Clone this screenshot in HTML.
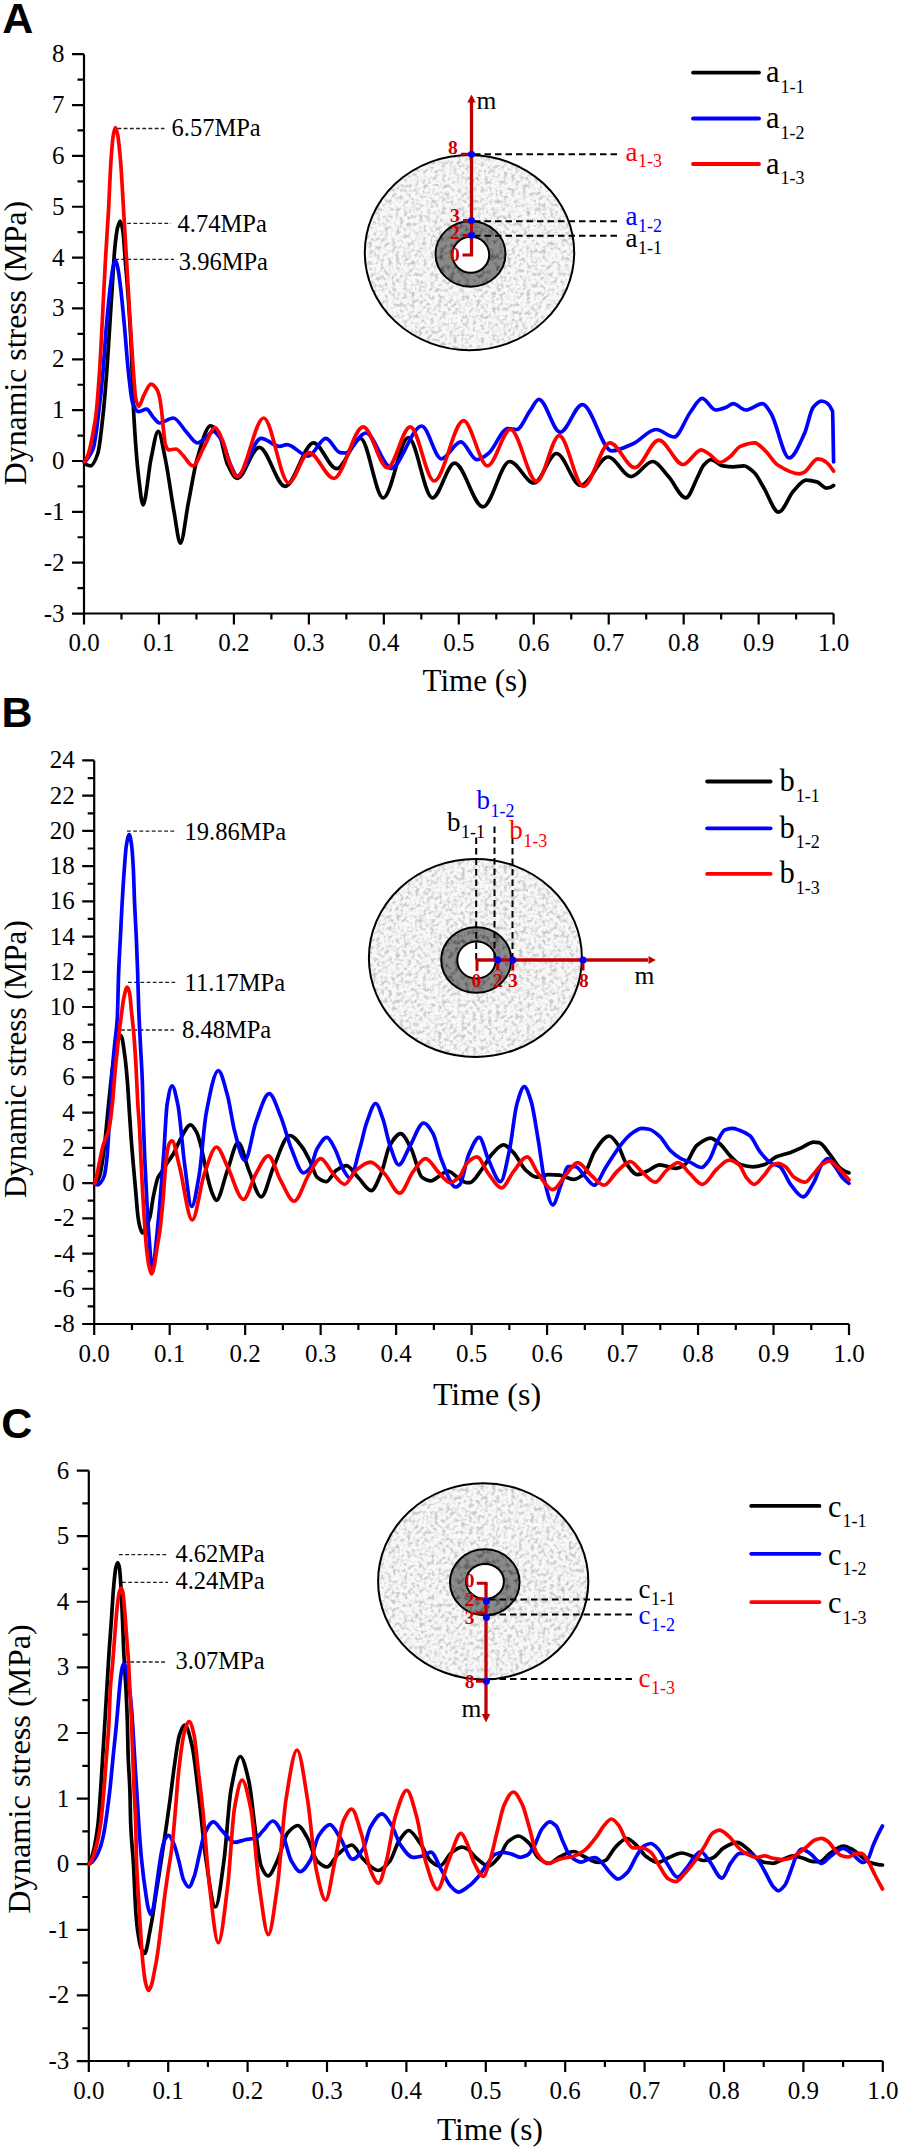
<!DOCTYPE html>
<html><head><meta charset="utf-8"><style>html,body{margin:0;padding:0;background:#fff;width:901px;height:2149px;overflow:hidden}svg{display:block}</style></head>
<body><svg width="901" height="2149" viewBox="0 0 901 2149"><rect width="100%" height="100%" fill="#fff"/><text x="2.2" y="33" font-family="'Liberation Sans', sans-serif" font-weight="bold" font-size="43" fill="#000">A</text><text x="64.5" y="621.55" text-anchor="end" font-family="'Liberation Serif', serif" font-size="25" fill="#000">-3</text><text x="64.5" y="570.70" text-anchor="end" font-family="'Liberation Serif', serif" font-size="25" fill="#000">-2</text><text x="64.5" y="519.85" text-anchor="end" font-family="'Liberation Serif', serif" font-size="25" fill="#000">-1</text><text x="64.5" y="469.00" text-anchor="end" font-family="'Liberation Serif', serif" font-size="25" fill="#000">0</text><text x="64.5" y="418.15" text-anchor="end" font-family="'Liberation Serif', serif" font-size="25" fill="#000">1</text><text x="64.5" y="367.30" text-anchor="end" font-family="'Liberation Serif', serif" font-size="25" fill="#000">2</text><text x="64.5" y="316.45" text-anchor="end" font-family="'Liberation Serif', serif" font-size="25" fill="#000">3</text><text x="64.5" y="265.60" text-anchor="end" font-family="'Liberation Serif', serif" font-size="25" fill="#000">4</text><text x="64.5" y="214.75" text-anchor="end" font-family="'Liberation Serif', serif" font-size="25" fill="#000">5</text><text x="64.5" y="163.90" text-anchor="end" font-family="'Liberation Serif', serif" font-size="25" fill="#000">6</text><text x="64.5" y="113.05" text-anchor="end" font-family="'Liberation Serif', serif" font-size="25" fill="#000">7</text><text x="64.5" y="62.20" text-anchor="end" font-family="'Liberation Serif', serif" font-size="25" fill="#000">8</text><text x="84.00" y="651.0" text-anchor="middle" font-family="'Liberation Serif', serif" font-size="25" fill="#000">0.0</text><text x="158.96" y="651.0" text-anchor="middle" font-family="'Liberation Serif', serif" font-size="25" fill="#000">0.1</text><text x="233.92" y="651.0" text-anchor="middle" font-family="'Liberation Serif', serif" font-size="25" fill="#000">0.2</text><text x="308.88" y="651.0" text-anchor="middle" font-family="'Liberation Serif', serif" font-size="25" fill="#000">0.3</text><text x="383.84" y="651.0" text-anchor="middle" font-family="'Liberation Serif', serif" font-size="25" fill="#000">0.4</text><text x="458.80" y="651.0" text-anchor="middle" font-family="'Liberation Serif', serif" font-size="25" fill="#000">0.5</text><text x="533.76" y="651.0" text-anchor="middle" font-family="'Liberation Serif', serif" font-size="25" fill="#000">0.6</text><text x="608.72" y="651.0" text-anchor="middle" font-family="'Liberation Serif', serif" font-size="25" fill="#000">0.7</text><text x="683.68" y="651.0" text-anchor="middle" font-family="'Liberation Serif', serif" font-size="25" fill="#000">0.8</text><text x="758.64" y="651.0" text-anchor="middle" font-family="'Liberation Serif', serif" font-size="25" fill="#000">0.9</text><text x="833.60" y="651.0" text-anchor="middle" font-family="'Liberation Serif', serif" font-size="25" fill="#000">1.0</text><path d="M84 54.19999999999999V613.5M72 613.5H833.6M72 613.55H84M77.5 588.12H84M72 562.70H84M77.5 537.27H84M72 511.85H84M77.5 486.43H84M72 461.00H84M77.5 435.57H84M72 410.15H84M77.5 384.73H84M72 359.30H84M77.5 333.88H84M72 308.45H84M77.5 283.02H84M72 257.60H84M77.5 232.17H84M72 206.75H84M77.5 181.32H84M72 155.90H84M77.5 130.47H84M72 105.05H84M77.5 79.62H84M72 54.20H84M84.00 613.5V624.5M121.48 613.5V619.5M158.96 613.5V624.5M196.44 613.5V619.5M233.92 613.5V624.5M271.40 613.5V619.5M308.88 613.5V624.5M346.36 613.5V619.5M383.84 613.5V624.5M421.32 613.5V619.5M458.80 613.5V624.5M496.28 613.5V619.5M533.76 613.5V624.5M571.24 613.5V619.5M608.72 613.5V624.5M646.20 613.5V619.5M683.68 613.5V624.5M721.16 613.5V619.5M758.64 613.5V624.5M796.12 613.5V619.5M833.60 613.5V624.5" stroke="#000" stroke-width="2.2" fill="none"/><text x="475" y="691" text-anchor="middle" font-family="'Liberation Serif', serif" font-size="31" fill="#000">Time (s)</text><text transform="translate(26,343) rotate(-90)" x="0" y="0" text-anchor="middle" font-family="'Liberation Serif', serif" font-size="31.8" fill="#000">Dynamic stress (MPa)</text><text x="1.5" y="727" font-family="'Liberation Sans', sans-serif" font-weight="bold" font-size="43" fill="#000">B</text><text x="74.7" y="1331.98" text-anchor="end" font-family="'Liberation Serif', serif" font-size="25" fill="#000">-8</text><text x="74.7" y="1296.76" text-anchor="end" font-family="'Liberation Serif', serif" font-size="25" fill="#000">-6</text><text x="74.7" y="1261.54" text-anchor="end" font-family="'Liberation Serif', serif" font-size="25" fill="#000">-4</text><text x="74.7" y="1226.32" text-anchor="end" font-family="'Liberation Serif', serif" font-size="25" fill="#000">-2</text><text x="74.7" y="1191.10" text-anchor="end" font-family="'Liberation Serif', serif" font-size="25" fill="#000">0</text><text x="74.7" y="1155.88" text-anchor="end" font-family="'Liberation Serif', serif" font-size="25" fill="#000">2</text><text x="74.7" y="1120.66" text-anchor="end" font-family="'Liberation Serif', serif" font-size="25" fill="#000">4</text><text x="74.7" y="1085.44" text-anchor="end" font-family="'Liberation Serif', serif" font-size="25" fill="#000">6</text><text x="74.7" y="1050.22" text-anchor="end" font-family="'Liberation Serif', serif" font-size="25" fill="#000">8</text><text x="74.7" y="1015.00" text-anchor="end" font-family="'Liberation Serif', serif" font-size="25" fill="#000">10</text><text x="74.7" y="979.78" text-anchor="end" font-family="'Liberation Serif', serif" font-size="25" fill="#000">12</text><text x="74.7" y="944.56" text-anchor="end" font-family="'Liberation Serif', serif" font-size="25" fill="#000">14</text><text x="74.7" y="909.34" text-anchor="end" font-family="'Liberation Serif', serif" font-size="25" fill="#000">16</text><text x="74.7" y="874.12" text-anchor="end" font-family="'Liberation Serif', serif" font-size="25" fill="#000">18</text><text x="74.7" y="838.90" text-anchor="end" font-family="'Liberation Serif', serif" font-size="25" fill="#000">20</text><text x="74.7" y="803.68" text-anchor="end" font-family="'Liberation Serif', serif" font-size="25" fill="#000">22</text><text x="74.7" y="768.46" text-anchor="end" font-family="'Liberation Serif', serif" font-size="25" fill="#000">24</text><text x="94.20" y="1361.5" text-anchor="middle" font-family="'Liberation Serif', serif" font-size="25" fill="#000">0.0</text><text x="169.68" y="1361.5" text-anchor="middle" font-family="'Liberation Serif', serif" font-size="25" fill="#000">0.1</text><text x="245.16" y="1361.5" text-anchor="middle" font-family="'Liberation Serif', serif" font-size="25" fill="#000">0.2</text><text x="320.64" y="1361.5" text-anchor="middle" font-family="'Liberation Serif', serif" font-size="25" fill="#000">0.3</text><text x="396.12" y="1361.5" text-anchor="middle" font-family="'Liberation Serif', serif" font-size="25" fill="#000">0.4</text><text x="471.60" y="1361.5" text-anchor="middle" font-family="'Liberation Serif', serif" font-size="25" fill="#000">0.5</text><text x="547.08" y="1361.5" text-anchor="middle" font-family="'Liberation Serif', serif" font-size="25" fill="#000">0.6</text><text x="622.56" y="1361.5" text-anchor="middle" font-family="'Liberation Serif', serif" font-size="25" fill="#000">0.7</text><text x="698.04" y="1361.5" text-anchor="middle" font-family="'Liberation Serif', serif" font-size="25" fill="#000">0.8</text><text x="773.52" y="1361.5" text-anchor="middle" font-family="'Liberation Serif', serif" font-size="25" fill="#000">0.9</text><text x="849.00" y="1361.5" text-anchor="middle" font-family="'Liberation Serif', serif" font-size="25" fill="#000">1.0</text><path d="M94.2 760.4599999999999V1324M82.2 1324H849M82.2 1323.98H94.2M87.7 1306.37H94.2M82.2 1288.76H94.2M87.7 1271.15H94.2M82.2 1253.54H94.2M87.7 1235.93H94.2M82.2 1218.32H94.2M87.7 1200.71H94.2M82.2 1183.10H94.2M87.7 1165.49H94.2M82.2 1147.88H94.2M87.7 1130.27H94.2M82.2 1112.66H94.2M87.7 1095.05H94.2M82.2 1077.44H94.2M87.7 1059.83H94.2M82.2 1042.22H94.2M87.7 1024.61H94.2M82.2 1007.00H94.2M87.7 989.39H94.2M82.2 971.78H94.2M87.7 954.17H94.2M82.2 936.56H94.2M87.7 918.95H94.2M82.2 901.34H94.2M87.7 883.73H94.2M82.2 866.12H94.2M87.7 848.51H94.2M82.2 830.90H94.2M87.7 813.29H94.2M82.2 795.68H94.2M87.7 778.07H94.2M82.2 760.46H94.2M94.20 1324V1335M131.94 1324V1330M169.68 1324V1335M207.42 1324V1330M245.16 1324V1335M282.90 1324V1330M320.64 1324V1335M358.38 1324V1330M396.12 1324V1335M433.86 1324V1330M471.60 1324V1335M509.34 1324V1330M547.08 1324V1335M584.82 1324V1330M622.56 1324V1335M660.30 1324V1330M698.04 1324V1335M735.78 1324V1330M773.52 1324V1335M811.26 1324V1330M849.00 1324V1335" stroke="#000" stroke-width="2.2" fill="none"/><text x="487" y="1405.4" text-anchor="middle" font-family="'Liberation Serif', serif" font-size="32" fill="#000">Time (s)</text><text transform="translate(26.1,1059.3) rotate(-90)" x="0" y="0" text-anchor="middle" font-family="'Liberation Serif', serif" font-size="31.1" fill="#000">Dynamic stress (MPa)</text><text x="1.3" y="1438.2" font-family="'Liberation Sans', sans-serif" font-weight="bold" font-size="43" fill="#000">C</text><text x="69.3" y="2069.03" text-anchor="end" font-family="'Liberation Serif', serif" font-size="25" fill="#000">-3</text><text x="69.3" y="2003.42" text-anchor="end" font-family="'Liberation Serif', serif" font-size="25" fill="#000">-2</text><text x="69.3" y="1937.81" text-anchor="end" font-family="'Liberation Serif', serif" font-size="25" fill="#000">-1</text><text x="69.3" y="1872.20" text-anchor="end" font-family="'Liberation Serif', serif" font-size="25" fill="#000">0</text><text x="69.3" y="1806.59" text-anchor="end" font-family="'Liberation Serif', serif" font-size="25" fill="#000">1</text><text x="69.3" y="1740.98" text-anchor="end" font-family="'Liberation Serif', serif" font-size="25" fill="#000">2</text><text x="69.3" y="1675.37" text-anchor="end" font-family="'Liberation Serif', serif" font-size="25" fill="#000">3</text><text x="69.3" y="1609.76" text-anchor="end" font-family="'Liberation Serif', serif" font-size="25" fill="#000">4</text><text x="69.3" y="1544.15" text-anchor="end" font-family="'Liberation Serif', serif" font-size="25" fill="#000">5</text><text x="69.3" y="1478.54" text-anchor="end" font-family="'Liberation Serif', serif" font-size="25" fill="#000">6</text><text x="88.80" y="2098.5" text-anchor="middle" font-family="'Liberation Serif', serif" font-size="25" fill="#000">0.0</text><text x="168.20" y="2098.5" text-anchor="middle" font-family="'Liberation Serif', serif" font-size="25" fill="#000">0.1</text><text x="247.60" y="2098.5" text-anchor="middle" font-family="'Liberation Serif', serif" font-size="25" fill="#000">0.2</text><text x="327.00" y="2098.5" text-anchor="middle" font-family="'Liberation Serif', serif" font-size="25" fill="#000">0.3</text><text x="406.40" y="2098.5" text-anchor="middle" font-family="'Liberation Serif', serif" font-size="25" fill="#000">0.4</text><text x="485.80" y="2098.5" text-anchor="middle" font-family="'Liberation Serif', serif" font-size="25" fill="#000">0.5</text><text x="565.20" y="2098.5" text-anchor="middle" font-family="'Liberation Serif', serif" font-size="25" fill="#000">0.6</text><text x="644.60" y="2098.5" text-anchor="middle" font-family="'Liberation Serif', serif" font-size="25" fill="#000">0.7</text><text x="724.00" y="2098.5" text-anchor="middle" font-family="'Liberation Serif', serif" font-size="25" fill="#000">0.8</text><text x="803.40" y="2098.5" text-anchor="middle" font-family="'Liberation Serif', serif" font-size="25" fill="#000">0.9</text><text x="882.80" y="2098.5" text-anchor="middle" font-family="'Liberation Serif', serif" font-size="25" fill="#000">1.0</text><path d="M88.8 1470.54V2061M76.8 2061H882.8M76.8 2061.03H88.8M82.3 2028.23H88.8M76.8 1995.42H88.8M82.3 1962.62H88.8M76.8 1929.81H88.8M82.3 1897.01H88.8M76.8 1864.20H88.8M82.3 1831.39H88.8M76.8 1798.59H88.8M82.3 1765.79H88.8M76.8 1732.98H88.8M82.3 1700.17H88.8M76.8 1667.37H88.8M82.3 1634.57H88.8M76.8 1601.76H88.8M82.3 1568.95H88.8M76.8 1536.15H88.8M82.3 1503.35H88.8M76.8 1470.54H88.8M88.80 2061V2072M128.50 2061V2067M168.20 2061V2072M207.90 2061V2067M247.60 2061V2072M287.30 2061V2067M327.00 2061V2072M366.70 2061V2067M406.40 2061V2072M446.10 2061V2067M485.80 2061V2072M525.50 2061V2067M565.20 2061V2072M604.90 2061V2067M644.60 2061V2072M684.30 2061V2067M724.00 2061V2072M763.70 2061V2067M803.40 2061V2072M843.10 2061V2067M882.80 2061V2072" stroke="#000" stroke-width="2.2" fill="none"/><text x="490" y="2139.7" text-anchor="middle" font-family="'Liberation Serif', serif" font-size="31.3" fill="#000">Time (s)</text><text transform="translate(30,1769) rotate(-90)" x="0" y="0" text-anchor="middle" font-family="'Liberation Serif', serif" font-size="32.4" fill="#000">Dynamic stress (MPa)</text><defs><filter id="spk" x="0" y="0" width="1" height="1" color-interpolation-filters="sRGB"><feTurbulence type="fractalNoise" baseFrequency="0.26" numOctaves="3" seed="4"/><feColorMatrix type="matrix" values="0 0 0 0 0.78  0 0 0 0 0.78  0 0 0 0 0.78  -3.2 0 0 0 1.75"/><feGaussianBlur stdDeviation="0.7"/><feComposite in2="SourceGraphic" operator="in"/></filter><filter id="spk2" x="0" y="0" width="1" height="1" color-interpolation-filters="sRGB"><feTurbulence type="fractalNoise" baseFrequency="0.2" numOctaves="3" seed="9"/><feColorMatrix type="matrix" values="0 0 0 0 0.3  0 0 0 0 0.3  0 0 0 0 0.3  -2.5 0 0 0 1.35"/><feGaussianBlur stdDeviation="0.5"/><feComposite in2="SourceGraphic" operator="in"/></filter></defs><path d="M693 72.6H759" stroke="#000" stroke-width="3.8" fill="none" stroke-linecap="round"/><text x="766" y="82.1" font-family="'Liberation Serif', serif" font-size="30.5" fill="#000">a<tspan dx="1" dy="10.5" font-size="18">1-1</tspan></text><path d="M693 118.5H759" stroke="#0000ff" stroke-width="3.8" fill="none" stroke-linecap="round"/><text x="766" y="128.0" font-family="'Liberation Serif', serif" font-size="30.5" fill="#000">a<tspan dx="1" dy="10.5" font-size="18">1-2</tspan></text><path d="M693 164H759" stroke="#ff0000" stroke-width="3.8" fill="none" stroke-linecap="round"/><text x="766" y="173.5" font-family="'Liberation Serif', serif" font-size="30.5" fill="#000">a<tspan dx="1" dy="10.5" font-size="18">1-3</tspan></text><ellipse cx="469.5" cy="252.6" rx="104.7" ry="97.6" fill="#f8f8f8" stroke="none"/><ellipse cx="469.5" cy="252.6" rx="104.7" ry="97.6" fill="#000" filter="url(#spk)"/><ellipse cx="469.5" cy="252.6" rx="104.7" ry="97.6" fill="none" stroke="#000" stroke-width="2"/><ellipse cx="470.5" cy="254" rx="35" ry="32.7" fill="#8a8a8a" stroke="none"/><ellipse cx="470.5" cy="254" rx="35" ry="32.7" fill="#000" filter="url(#spk2)"/><ellipse cx="470.5" cy="254" rx="35" ry="32.7" fill="none" stroke="#000" stroke-width="2"/><ellipse cx="470.8" cy="254.7" rx="18.4" ry="18" fill="#fff" stroke="#000" stroke-width="2"/><path d="M471.5 255V101" stroke="#c00000" stroke-width="3.3" fill="none"/><path d="M467.3 102.5L471.5 94.5L475.7 102.5Z" fill="#c00000"/><path d="M462.5 255H473M461 154.2H471M463 220.6H471M463 235.2H471" stroke="#c00000" stroke-width="3" fill="none"/><path d="M474 154.3H617" stroke="#000" stroke-width="2" stroke-dasharray="6.5 4" fill="none"/><path d="M474 221.2H617" stroke="#000" stroke-width="2" stroke-dasharray="6.5 4" fill="none"/><path d="M474 235.8H619" stroke="#000" stroke-width="2" stroke-dasharray="6.5 4" fill="none"/><circle cx="471.5" cy="154.3" r="3.5" fill="#0000ff"/><circle cx="471.5" cy="220.6" r="3.5" fill="#0000ff"/><circle cx="471.5" cy="235.2" r="3.5" fill="#0000ff"/><text x="448" y="154" font-family="'Liberation Serif', serif" font-weight="bold" font-size="19.5" fill="#d00000">8</text><text x="450" y="221.7" font-family="'Liberation Serif', serif" font-weight="bold" font-size="19.5" fill="#d00000">3</text><text x="450" y="239.4" font-family="'Liberation Serif', serif" font-weight="bold" font-size="19.5" fill="#d00000">2</text><text x="450" y="260.5" font-family="'Liberation Serif', serif" font-weight="bold" font-size="19.5" fill="#d00000">0</text><text x="476.5" y="108.9" font-family="'Liberation Serif', serif" font-size="25.5" fill="#000">m</text><text x="625.5" y="160.6" font-family="'Liberation Serif', serif" font-size="27" fill="#ff0000">a<tspan dx="0.5" dy="6.5" font-size="18">1-3</tspan></text><text x="625.5" y="225.3" font-family="'Liberation Serif', serif" font-size="27" fill="#0000ff">a<tspan dx="0.5" dy="6.5" font-size="18">1-2</tspan></text><text x="625.5" y="247.3" font-family="'Liberation Serif', serif" font-size="27" fill="#000">a<tspan dx="0.5" dy="6.5" font-size="18">1-1</tspan></text><path d="M117.5 128.5H164.5" stroke="#222" stroke-width="1.3" stroke-dasharray="3.8 2.4" fill="none"/><text x="171.5" y="135.6" font-family="'Liberation Serif', serif" font-size="24.5" fill="#000">6.57MPa</text><path d="M121 223.4H171" stroke="#222" stroke-width="1.3" stroke-dasharray="3.8 2.4" fill="none"/><text x="177.6" y="232.4" font-family="'Liberation Serif', serif" font-size="24.5" fill="#000">4.74MPa</text><path d="M115 259.4H174" stroke="#222" stroke-width="1.3" stroke-dasharray="3.8 2.4" fill="none"/><text x="178.8" y="270" font-family="'Liberation Serif', serif" font-size="24.5" fill="#000">3.96MPa</text><path d="M127 831.2H175.5" stroke="#222" stroke-width="1.3" stroke-dasharray="3.8 2.4" fill="none"/><text x="184.6" y="839.6" font-family="'Liberation Serif', serif" font-size="24.5" fill="#000">19.86MPa</text><path d="M128 982.4H176" stroke="#222" stroke-width="1.3" stroke-dasharray="3.8 2.4" fill="none"/><text x="184.6" y="991" font-family="'Liberation Serif', serif" font-size="24.5" fill="#000">11.17MPa</text><path d="M121 1030H174" stroke="#222" stroke-width="1.3" stroke-dasharray="3.8 2.4" fill="none"/><text x="182" y="1038.4" font-family="'Liberation Serif', serif" font-size="24.5" fill="#000">8.48MPa</text><path d="M707.1 781.5H770.6" stroke="#000" stroke-width="3.8" fill="none" stroke-linecap="round"/><text x="779.5" y="791.0" font-family="'Liberation Serif', serif" font-size="30.5" fill="#000">b<tspan dx="1" dy="10.5" font-size="18">1-1</tspan></text><path d="M707.1 828.3H770.6" stroke="#0000ff" stroke-width="3.8" fill="none" stroke-linecap="round"/><text x="779.5" y="837.8" font-family="'Liberation Serif', serif" font-size="30.5" fill="#000">b<tspan dx="1" dy="10.5" font-size="18">1-2</tspan></text><path d="M707.1 873.9H770.6" stroke="#ff0000" stroke-width="3.8" fill="none" stroke-linecap="round"/><text x="779.5" y="883.4" font-family="'Liberation Serif', serif" font-size="30.5" fill="#000">b<tspan dx="1" dy="10.5" font-size="18">1-3</tspan></text><ellipse cx="475.4" cy="957.9" rx="106.5" ry="99" fill="#f8f8f8" stroke="none"/><ellipse cx="475.4" cy="957.9" rx="106.5" ry="99" fill="#000" filter="url(#spk)"/><ellipse cx="475.4" cy="957.9" rx="106.5" ry="99" fill="none" stroke="#000" stroke-width="2"/><ellipse cx="476.2" cy="960" rx="35" ry="32.8" fill="#8a8a8a" stroke="none"/><ellipse cx="476.2" cy="960" rx="35" ry="32.8" fill="#000" filter="url(#spk2)"/><ellipse cx="476.2" cy="960" rx="35" ry="32.8" fill="none" stroke="#000" stroke-width="2"/><ellipse cx="476.5" cy="960" rx="19.2" ry="18.6" fill="#fff" stroke="#000" stroke-width="2"/><path d="M476.2 837.5V960" stroke="#000" stroke-width="2" stroke-dasharray="6.5 4" fill="none"/><path d="M494.5 826.6V960" stroke="#000" stroke-width="2" stroke-dasharray="6.5 4" fill="none"/><path d="M512.5 837.5V960" stroke="#000" stroke-width="2" stroke-dasharray="6.5 4" fill="none"/><path d="M476.4 960H648" stroke="#c00000" stroke-width="3.3" fill="none"/><path d="M648.5 956L655.8 960L648.5 964Z" fill="#c00000"/><path d="M477 958.5V971M497.7 960V970.6M512.8 960V970.6M583 960V970.6" stroke="#c00000" stroke-width="3" fill="none"/><circle cx="497.7" cy="960" r="3.5" fill="#0000ff"/><circle cx="512.8" cy="960" r="3.5" fill="#0000ff"/><circle cx="583" cy="960" r="3.5" fill="#0000ff"/><text x="471.6" y="987.1" font-family="'Liberation Serif', serif" font-weight="bold" font-size="19.5" fill="#d00000">0</text><text x="492.9" y="987.1" font-family="'Liberation Serif', serif" font-weight="bold" font-size="19.5" fill="#d00000">2</text><text x="508" y="987.1" font-family="'Liberation Serif', serif" font-weight="bold" font-size="19.5" fill="#d00000">3</text><text x="579" y="987.1" font-family="'Liberation Serif', serif" font-weight="bold" font-size="19.5" fill="#d00000">8</text><text x="634.5" y="984" font-family="'Liberation Serif', serif" font-size="25.5" fill="#000">m</text><text x="476.5" y="808.7" font-family="'Liberation Serif', serif" font-size="27" fill="#0000ff">b<tspan dx="0.5" dy="7.8" font-size="18">1-2</tspan></text><text x="447" y="830.5" font-family="'Liberation Serif', serif" font-size="27" fill="#000">b<tspan dx="0.5" dy="7.8" font-size="18">1-1</tspan></text><text x="509.2" y="839" font-family="'Liberation Serif', serif" font-size="27" fill="#ff0000">b<tspan dx="0.5" dy="7.8" font-size="18">1-3</tspan></text><path d="M119 1554.6H167" stroke="#222" stroke-width="1.3" stroke-dasharray="3.8 2.4" fill="none"/><text x="175.4" y="1562" font-family="'Liberation Serif', serif" font-size="24.5" fill="#000">4.62MPa</text><path d="M122 1582.4H168" stroke="#222" stroke-width="1.3" stroke-dasharray="3.8 2.4" fill="none"/><text x="175.4" y="1589" font-family="'Liberation Serif', serif" font-size="24.5" fill="#000">4.24MPa</text><path d="M124 1662H167" stroke="#222" stroke-width="1.3" stroke-dasharray="3.8 2.4" fill="none"/><text x="175.4" y="1669" font-family="'Liberation Serif', serif" font-size="24.5" fill="#000">3.07MPa</text><path d="M751.2 1505.9H819.5" stroke="#000" stroke-width="3.8" fill="none" stroke-linecap="round"/><text x="828" y="1516.9" font-family="'Liberation Serif', serif" font-size="30.5" fill="#000">c<tspan dx="1" dy="10.5" font-size="18">1-1</tspan></text><path d="M751.2 1553.8H819.5" stroke="#0000ff" stroke-width="3.8" fill="none" stroke-linecap="round"/><text x="828" y="1564.8" font-family="'Liberation Serif', serif" font-size="30.5" fill="#000">c<tspan dx="1" dy="10.5" font-size="18">1-2</tspan></text><path d="M751.2 1602.1H819.5" stroke="#ff0000" stroke-width="3.8" fill="none" stroke-linecap="round"/><text x="828" y="1613.1" font-family="'Liberation Serif', serif" font-size="30.5" fill="#000">c<tspan dx="1" dy="10.5" font-size="18">1-3</tspan></text><ellipse cx="483.2" cy="1581.3" rx="105.1" ry="98.1" fill="#f8f8f8" stroke="none"/><ellipse cx="483.2" cy="1581.3" rx="105.1" ry="98.1" fill="#000" filter="url(#spk)"/><ellipse cx="483.2" cy="1581.3" rx="105.1" ry="98.1" fill="none" stroke="#000" stroke-width="2"/><ellipse cx="484.8" cy="1582.3" rx="34.8" ry="33" fill="#8a8a8a" stroke="none"/><ellipse cx="484.8" cy="1582.3" rx="34.8" ry="33" fill="#000" filter="url(#spk2)"/><ellipse cx="484.8" cy="1582.3" rx="34.8" ry="33" fill="none" stroke="#000" stroke-width="2"/><ellipse cx="485" cy="1581.4" rx="18.9" ry="17.5" fill="#fff" stroke="#000" stroke-width="2"/><path d="M486 1583.3V1715" stroke="#c00000" stroke-width="3.3" fill="none"/><path d="M481.8 1714L486 1722.5L490.2 1714Z" fill="#c00000"/><path d="M476.7 1583.3H487.5M475.5 1598.9H486M475.5 1613.1H486M476 1681.3H486" stroke="#c00000" stroke-width="3" fill="none"/><path d="M489 1599.4H632" stroke="#000" stroke-width="2" stroke-dasharray="6.5 4" fill="none"/><path d="M489 1614.4H632" stroke="#000" stroke-width="2" stroke-dasharray="6.5 4" fill="none"/><path d="M489 1679H632" stroke="#000" stroke-width="2" stroke-dasharray="6.5 4" fill="none"/><circle cx="486.4" cy="1601.3" r="3.5" fill="#0000ff"/><circle cx="486.4" cy="1617.5" r="3.5" fill="#0000ff"/><circle cx="486.4" cy="1681.3" r="3.5" fill="#0000ff"/><text x="464.8" y="1587.2" font-family="'Liberation Serif', serif" font-weight="bold" font-size="19.5" fill="#d00000">0</text><text x="464.8" y="1606.1" font-family="'Liberation Serif', serif" font-weight="bold" font-size="19.5" fill="#d00000">2</text><text x="464.8" y="1624.4" font-family="'Liberation Serif', serif" font-weight="bold" font-size="19.5" fill="#d00000">3</text><text x="464.8" y="1687.5" font-family="'Liberation Serif', serif" font-weight="bold" font-size="19.5" fill="#d00000">8</text><text x="461.5" y="1717" font-family="'Liberation Serif', serif" font-size="25.5" fill="#000">m</text><text x="638.5" y="1598.3" font-family="'Liberation Serif', serif" font-size="27" fill="#000">c<tspan dx="0.5" dy="6.5" font-size="18">1-1</tspan></text><text x="638.5" y="1624" font-family="'Liberation Serif', serif" font-size="27" fill="#0000ff">c<tspan dx="0.5" dy="6.5" font-size="18">1-2</tspan></text><text x="638.5" y="1687" font-family="'Liberation Serif', serif" font-size="27" fill="#ff0000">c<tspan dx="0.5" dy="6.5" font-size="18">1-3</tspan></text><path d="M84.4 462.4C86.5 465.8 88.6 465.9 90.7 465.9C93.1 465.9 95.4 460.4 97.8 453.5C99.6 448.4 101.3 430.6 103.1 414.4C104.3 403.7 105.4 389.2 106.6 373.8C107.4 362.8 108.3 348.9 109.1 336.1C110.2 319.7 111.2 302.3 112.3 285.9C113.1 273.1 114.0 256.6 114.8 248.2C115.7 239.2 116.6 231.5 117.5 228.0C118.4 224.5 119.3 221.0 120.2 221.0C121.1 221.0 122.1 226.3 123.0 232.0C123.8 236.7 124.5 251.2 125.3 260.8C126.3 273.3 127.3 284.1 128.3 298.4C129.3 312.7 130.3 327.2 131.3 348.7C132.0 363.0 132.6 392.7 133.3 405.5C135.1 439.5 136.8 461.6 138.6 476.6C140.1 489.4 141.6 505.0 143.1 505.0C145.7 505.0 148.4 470.9 151.0 458.8C153.4 447.7 155.8 431.3 158.2 431.3C160.6 431.3 162.9 447.7 165.3 458.8C168.2 472.6 171.2 496.2 174.1 512.1C176.2 523.5 178.3 543.2 180.4 543.2C183.0 543.2 185.7 516.4 188.3 503.2C191.3 488.3 194.2 468.8 197.2 458.8C201.6 443.8 206.1 425.9 210.5 425.9C213.2 425.9 215.8 428.8 218.5 432.2C221.5 436.0 224.4 457.9 227.4 464.1C230.7 470.9 233.9 478.3 237.2 478.3C244.6 478.3 251.9 447.3 259.3 447.3C267.9 447.3 276.5 486.3 285.1 486.3C294.6 486.3 304.0 442.8 313.5 442.8C321.2 442.8 328.9 468.6 336.6 468.6C344.6 468.6 352.5 438.4 360.5 438.4C368.1 438.4 375.6 497.9 383.2 497.9C391.6 497.9 400.0 437.5 408.4 437.5C416.4 437.5 424.4 497.9 432.4 497.9C439.8 497.9 447.2 463.2 454.6 463.2C464.1 463.2 473.5 506.8 483.0 506.8C491.9 506.8 500.8 461.5 509.7 461.5C517.8 461.5 525.9 483.0 534.0 483.0C541.5 483.0 549.1 453.5 556.6 453.5C564.6 453.5 572.6 485.5 580.6 485.5C589.8 485.5 599.0 457.0 608.2 457.0C615.9 457.0 623.5 476.6 631.2 476.6C638.3 476.6 645.5 461.5 652.6 461.5C657.9 461.5 663.2 470.9 668.5 476.6C674.3 482.8 680.0 497.9 685.8 497.9C689.8 497.9 693.8 484.2 697.8 476.6C699.6 473.2 701.3 467.9 703.1 465.9C705.8 462.8 708.4 459.7 711.1 459.7C714.9 459.7 718.8 465.3 722.6 465.9C726.2 466.4 729.7 466.8 733.3 466.8C736.8 466.8 740.4 465.9 743.9 465.9C747.5 465.9 751.0 469.6 754.6 473.0C757.6 475.8 760.5 482.4 763.5 487.2C768.5 495.4 773.6 512.1 778.6 512.1C783.6 512.1 788.7 496.1 793.7 490.8C797.8 486.4 802.0 480.1 806.1 480.1C809.7 480.1 813.2 480.9 816.8 481.9C820.0 482.8 823.3 488.1 826.5 488.1C828.9 488.1 831.2 487.4 833.6 485.5" stroke="#000000" stroke-width="3.7" fill="none" stroke-linejoin="round" stroke-linecap="round"/><path d="M84.4 462.4C85.6 461.2 86.8 459.7 88.0 458.0C89.8 455.4 91.5 453.3 93.3 448.2C95.4 442.3 97.4 422.4 99.5 405.5C100.6 396.5 101.7 386.0 102.8 373.8C104.1 359.8 105.3 338.0 106.6 323.6C107.9 309.2 109.1 296.1 110.4 285.9C111.3 278.4 112.3 270.4 113.2 266.5C113.9 263.6 114.6 260.0 115.3 260.0C116.0 260.0 116.8 263.5 117.5 266.5C118.5 270.4 119.4 278.2 120.4 285.9C121.7 295.9 122.9 310.2 124.2 323.6C125.7 339.1 127.1 360.7 128.6 373.8C129.9 385.1 131.1 398.5 132.4 402.0C134.5 407.6 136.5 411.7 138.6 411.7C141.3 411.7 143.9 409.1 146.6 409.1C148.7 409.1 150.9 414.7 153.0 417.0C155.2 419.3 157.3 423.0 159.5 423.0C164.1 423.0 168.6 418.0 173.2 418.0C177.7 418.0 182.1 427.6 186.6 432.2C190.1 435.8 193.7 442.8 197.2 442.8C200.2 442.8 203.1 439.6 206.1 437.5C208.5 435.8 210.8 431.3 213.2 431.3C216.2 431.3 219.1 436.4 222.1 441.1C225.1 445.8 228.0 459.9 231.0 465.9C233.1 470.1 235.1 476.0 237.2 476.0C245.2 476.0 253.1 438.4 261.1 438.4C267.3 438.4 273.5 446.4 279.7 446.4C282.1 446.4 284.4 444.6 286.8 444.6C293.9 444.6 301.1 456.1 308.2 456.1C314.1 456.1 320.0 438.4 325.9 438.4C330.6 438.4 335.4 452.0 340.1 452.6C341.7 452.8 343.4 453.0 345.0 453.0C352.0 453.0 358.9 433.0 365.9 433.0C372.7 433.0 379.5 455.9 386.3 464.0C387.8 465.7 389.2 468.6 390.7 468.6C401.0 468.6 411.4 426.0 421.7 426.0C428.2 426.0 434.8 458.8 441.3 458.8C447.8 458.8 454.3 441.9 460.8 441.9C466.1 441.9 471.5 459.7 476.8 459.7C480.6 459.7 484.5 456.3 488.3 453.5C494.8 448.7 501.4 428.6 507.9 428.6C510.9 428.6 513.8 429.5 516.8 429.5C521.2 429.5 525.6 416.8 530.0 410.9C533.0 406.9 535.9 399.3 538.9 399.3C546.0 399.3 553.1 432.2 560.2 432.2C567.6 432.2 575.0 404.6 582.4 404.6C592.2 404.6 601.9 450.8 611.7 450.8C618.8 450.8 625.9 446.8 633.0 443.7C640.7 440.4 648.4 429.5 656.1 429.5C662.1 429.5 668.0 437.0 674.0 437.0C679.5 437.0 685.0 419.2 690.5 412.0C694.4 406.9 698.3 398.4 702.2 398.4C706.6 398.4 711.1 410.0 715.5 410.0C719.1 410.0 722.6 408.5 726.2 407.3C728.6 406.5 730.9 403.7 733.3 403.7C737.4 403.7 741.6 410.0 745.7 410.0C751.3 410.0 757.0 403.7 762.6 403.7C765.3 403.7 767.9 408.7 770.6 412.6C776.8 421.6 783.0 457.9 789.2 457.9C794.2 457.9 799.3 444.6 804.3 433.9C807.3 427.6 810.2 410.9 813.2 407.3C815.9 404.1 818.5 401.1 821.2 401.1C825.0 401.1 828.7 402.2 832.5 410.9C832.9 411.7 833.2 443.5 833.6 462.0" stroke="#0000ff" stroke-width="3.7" fill="none" stroke-linejoin="round" stroke-linecap="round"/><path d="M84.4 461.5C85.6 460.7 86.8 458.0 88.0 455.0C88.9 452.7 89.8 448.6 90.7 444.6C91.6 440.5 92.6 435.3 93.5 430.0C94.3 425.3 95.2 421.1 96.0 414.4C97.2 405.0 98.3 389.1 99.5 372.0C100.6 355.9 101.7 331.8 102.8 311.0C103.7 294.6 104.5 276.1 105.4 260.8C106.4 242.5 107.5 229.1 108.5 210.5C109.3 195.5 110.2 171.8 111.0 160.3C111.8 148.8 112.7 138.2 113.5 134.0C114.1 130.8 114.8 127.6 115.4 127.6C116.1 127.6 116.9 131.2 117.6 134.5C118.6 138.9 119.5 149.2 120.5 160.3C121.5 172.1 122.6 193.5 123.6 210.5C124.6 227.0 125.6 243.8 126.6 260.8C127.6 277.3 128.5 295.2 129.5 311.0C130.9 333.3 132.2 355.5 133.6 373.8C134.2 382.3 134.9 393.8 135.5 397.0C136.5 402.3 137.6 406.4 138.6 406.4C140.4 406.4 142.2 398.2 144.0 395.0C146.3 390.8 148.7 384.2 151.0 384.2C152.7 384.2 154.3 386.0 156.0 388.0C157.0 389.2 158.0 391.6 159.0 395.0C159.8 397.8 160.7 403.7 161.5 410.0C162.2 415.0 162.8 424.3 163.5 430.0C164.2 435.7 164.8 443.3 165.5 445.0C166.6 447.9 167.7 449.9 168.8 449.9C171.2 449.9 173.5 449.0 175.9 449.0C178.3 449.0 180.6 453.0 183.0 455.3C186.3 458.5 189.5 465.9 192.8 465.9C196.6 465.9 200.5 453.0 204.3 446.4C207.9 440.3 211.4 427.7 215.0 427.7C217.4 427.7 219.7 434.2 222.1 439.3C224.5 444.4 226.8 456.9 229.2 462.4C231.9 468.6 234.5 476.6 237.2 476.6C246.0 476.6 254.9 418.0 263.7 418.0C272.0 418.0 280.3 482.8 288.6 482.8C295.4 482.8 302.2 452.6 309.0 452.6C317.3 452.6 325.6 478.3 333.9 478.3C343.7 478.3 353.4 426.8 363.2 426.8C371.3 426.8 379.4 467.7 387.5 467.7C395.1 467.7 402.6 426.8 410.2 426.8C418.2 426.8 426.2 481.0 434.2 481.0C444.0 481.0 453.7 420.6 463.5 420.6C471.5 420.6 479.5 465.9 487.5 465.9C495.2 465.9 502.8 429.5 510.5 429.5C519.2 429.5 528.0 481.5 536.7 481.5C544.2 481.5 551.8 435.7 559.3 435.7C567.3 435.7 575.3 486.3 583.3 486.3C592.2 486.3 601.0 442.8 609.9 442.8C618.2 442.8 626.5 467.7 634.8 467.7C642.8 467.7 650.8 440.2 658.8 440.2C666.9 440.2 674.9 464.5 683.0 464.5C689.1 464.5 695.2 449.9 701.3 449.9C703.7 449.9 706.0 452.1 708.4 453.5C712.3 455.8 716.1 462.4 720.0 462.4C723.2 462.4 726.5 459.3 729.7 457.0C733.3 454.5 736.8 447.9 740.4 446.4C745.1 444.4 749.9 442.8 754.6 442.8C758.2 442.8 761.7 447.6 765.3 450.8C769.4 454.5 773.6 462.4 777.7 465.0C784.8 469.5 791.9 473.9 799.0 473.9C800.8 473.9 802.5 472.9 804.3 472.1C808.8 470.0 813.2 458.8 817.7 458.8C823.0 458.8 828.3 462.0 833.6 471.2" stroke="#ff0000" stroke-width="3.7" fill="none" stroke-linejoin="round" stroke-linecap="round"/><path d="M94.9 1183.5C96.5 1183.5 98.0 1180.0 99.6 1176.0C101.1 1172.1 102.7 1159.9 104.2 1148.1C105.1 1140.9 106.1 1129.5 107.0 1120.2C107.9 1110.9 108.9 1101.1 109.8 1092.3C110.7 1083.8 111.6 1074.5 112.5 1068.0C113.5 1060.8 114.5 1054.6 115.5 1050.0C116.5 1045.4 117.5 1041.0 118.5 1039.0C119.3 1037.3 120.2 1035.5 121.0 1035.5C122.2 1035.5 123.5 1046.4 124.7 1055.1C125.6 1061.6 126.6 1071.5 127.5 1083.0C128.1 1090.4 128.7 1101.8 129.3 1110.9C129.9 1120.5 130.6 1130.3 131.2 1138.8C131.8 1147.3 132.5 1154.7 133.1 1162.1C133.9 1171.9 134.8 1180.7 135.6 1190.0C136.4 1198.9 137.2 1211.2 138.0 1216.7C138.8 1222.4 139.7 1226.7 140.5 1229.0C141.2 1230.9 141.8 1233.0 142.5 1233.0C143.3 1233.0 144.2 1230.6 145.0 1229.0C146.7 1225.8 148.3 1222.7 150.0 1216.7C151.1 1212.7 152.2 1202.1 153.3 1196.7C154.9 1189.0 156.4 1180.9 158.0 1177.5C159.3 1174.6 160.7 1173.6 162.0 1171.5C163.7 1168.8 165.5 1165.7 167.2 1163.0C169.2 1159.8 171.3 1157.5 173.3 1154.0C175.5 1150.1 177.8 1143.9 180.0 1140.0C183.5 1133.9 187.1 1124.8 190.6 1124.8C192.6 1124.8 194.6 1128.6 196.6 1132.2C198.1 1134.9 199.6 1140.8 201.1 1146.6C202.2 1150.8 203.3 1156.9 204.4 1162.1C205.5 1167.3 206.6 1173.3 207.7 1177.7C209.2 1183.7 210.7 1189.7 212.2 1193.2C213.6 1196.4 214.9 1200.4 216.3 1200.4C220.0 1200.4 223.8 1179.9 227.5 1170.1C231.1 1160.7 234.6 1142.6 238.2 1142.6C241.7 1142.6 245.3 1161.8 248.8 1170.1C252.9 1179.9 257.1 1196.8 261.2 1196.8C265.4 1196.8 269.5 1175.6 273.7 1166.6C279.0 1155.1 284.4 1135.5 289.7 1135.5C293.8 1135.5 298.0 1141.8 302.1 1147.0C304.7 1150.3 307.4 1155.9 310.0 1161.2C312.4 1165.9 314.7 1175.2 317.1 1177.2C320.1 1179.7 323.0 1181.7 326.0 1181.7C329.5 1181.7 333.1 1172.3 336.6 1170.1C339.9 1168.0 343.1 1165.7 346.4 1165.7C350.3 1165.7 354.1 1173.3 358.0 1177.2C362.4 1181.6 366.9 1190.6 371.3 1190.6C374.5 1190.6 377.8 1181.0 381.0 1173.7C384.0 1167.0 386.9 1150.2 389.9 1145.3C393.5 1139.4 397.0 1133.7 400.6 1133.7C404.1 1133.7 407.7 1142.3 411.2 1148.8C414.8 1155.4 418.3 1174.8 421.9 1177.2C424.9 1179.2 427.8 1180.8 430.8 1180.8C433.2 1180.8 435.5 1178.5 437.9 1177.2C441.2 1175.4 444.4 1171.0 447.7 1171.0C450.9 1171.0 454.2 1175.2 457.4 1177.2C460.4 1179.0 463.3 1182.6 466.3 1182.6C467.5 1182.6 468.6 1182.6 469.8 1182.6C473.6 1182.6 477.5 1174.9 481.3 1170.1C484.9 1165.6 488.4 1157.8 492.0 1154.1C495.8 1150.1 499.7 1144.9 503.5 1144.9C506.8 1144.9 510.0 1149.2 513.3 1152.4C517.4 1156.5 521.6 1166.4 525.7 1170.1C529.3 1173.3 532.8 1177.2 536.4 1177.2C540.5 1177.2 544.7 1174.6 548.8 1174.6C552.4 1174.6 555.9 1174.8 559.5 1175.1C564.2 1175.5 569.0 1179.4 573.7 1179.4C577.2 1179.4 580.8 1176.7 584.3 1173.7C587.9 1170.6 591.4 1155.7 595.0 1150.6C599.7 1143.9 604.5 1136.0 609.2 1136.0C611.8 1136.0 614.5 1140.0 617.1 1143.5C620.1 1147.4 623.0 1158.8 626.0 1163.0C629.8 1168.4 633.7 1174.6 637.5 1174.6C640.8 1174.6 644.0 1172.4 647.3 1171.0C651.4 1169.3 655.6 1164.8 659.7 1164.8C665.0 1164.8 670.4 1168.3 675.7 1168.3C678.7 1168.3 681.6 1166.6 684.6 1164.8C688.7 1162.3 692.9 1148.6 697.0 1145.3C701.5 1141.7 706.0 1138.2 710.5 1138.2C713.5 1138.2 716.5 1141.2 719.5 1143.5C723.1 1146.3 726.6 1152.4 730.2 1155.9C733.8 1159.4 737.3 1163.8 740.9 1164.8C744.9 1165.9 749.0 1166.8 753.0 1166.8C756.6 1166.8 760.3 1165.8 763.9 1164.8C768.1 1163.6 772.2 1158.6 776.4 1156.8C781.1 1154.8 785.9 1154.1 790.6 1152.4C794.1 1151.1 797.7 1149.5 801.2 1147.9C805.4 1146.1 809.5 1142.1 813.7 1142.1C815.5 1142.1 817.2 1142.3 819.0 1142.6C822.6 1143.2 826.1 1149.8 829.7 1154.1C833.2 1158.3 836.8 1165.7 840.3 1168.3C843.2 1170.4 846.1 1172.4 849.0 1172.8" stroke="#000000" stroke-width="3.7" fill="none" stroke-linejoin="round" stroke-linecap="round"/><path d="M94.5 1184.0C95.6 1185.0 96.6 1185.0 97.7 1185.0C98.8 1185.0 99.9 1183.3 101.0 1182.0C102.1 1180.7 103.1 1179.2 104.2 1176.0C105.1 1173.2 106.1 1166.1 107.0 1157.4C107.6 1151.5 108.3 1139.1 108.9 1129.5C109.5 1120.4 110.1 1112.1 110.7 1101.6C111.2 1093.4 111.6 1080.7 112.1 1073.7C112.9 1061.7 113.7 1054.4 114.5 1045.8C115.4 1035.8 116.4 1033.2 117.3 1017.9C117.8 1010.3 118.2 982.5 118.7 970.8C119.3 956.6 119.8 948.5 120.4 937.3C121.0 926.1 121.5 913.8 122.1 903.8C122.8 891.4 123.5 879.5 124.2 870.3C125.0 860.2 125.7 848.8 126.5 844.5C127.4 839.4 128.3 834.5 129.2 834.5C130.0 834.5 130.7 839.4 131.5 844.5C132.1 848.7 132.8 858.4 133.4 870.3C133.8 877.8 134.2 894.5 134.6 903.8C135.2 917.0 135.7 924.6 136.3 937.3C136.7 947.0 137.2 958.0 137.6 970.8C138.0 981.6 138.3 998.9 138.7 1008.6C139.3 1024.4 139.9 1033.7 140.5 1045.8C141.1 1058.5 141.8 1065.4 142.4 1083.0C142.7 1091.3 143.0 1110.3 143.3 1120.2C143.8 1135.5 144.2 1146.8 144.7 1157.4C145.2 1168.0 145.6 1175.8 146.1 1185.3C146.5 1193.4 146.9 1203.0 147.3 1210.0C148.2 1225.8 149.1 1238.6 150.0 1250.0C150.7 1258.5 151.3 1272.5 152.0 1272.5C152.7 1272.5 153.3 1266.4 154.0 1262.0C154.9 1256.0 155.8 1245.5 156.7 1236.7C157.6 1228.2 158.4 1219.7 159.3 1210.0C160.2 1199.9 161.1 1188.3 162.0 1176.7C162.7 1168.1 163.3 1159.3 164.0 1150.0C165.0 1135.6 166.1 1110.8 167.1 1104.4C168.8 1094.0 170.4 1085.8 172.1 1085.8C174.0 1085.8 175.9 1095.5 177.8 1104.4C180.2 1115.5 182.5 1149.9 184.9 1166.6C187.1 1182.4 189.4 1206.5 191.6 1206.5C194.1 1206.5 196.6 1189.6 199.1 1175.5C201.5 1162.2 203.8 1125.6 206.2 1113.3C210.2 1092.3 214.3 1070.7 218.3 1070.7C221.4 1070.7 224.4 1084.6 227.5 1095.5C229.9 1103.9 232.2 1122.3 234.6 1131.0C238.0 1143.7 241.5 1160.4 244.9 1160.4C248.6 1160.4 252.2 1132.0 255.9 1122.2C260.3 1110.4 264.8 1093.7 269.2 1093.7C273.1 1093.7 276.9 1107.5 280.8 1116.8C284.3 1125.3 287.9 1140.3 291.4 1148.8C295.4 1158.5 299.5 1172.8 303.5 1172.8C305.7 1172.8 307.8 1170.7 310.0 1168.3C312.4 1165.7 314.7 1152.8 317.1 1148.8C320.4 1143.3 323.6 1137.3 326.9 1137.3C329.6 1137.3 332.2 1144.0 334.9 1148.8C337.8 1154.1 340.8 1165.3 343.7 1170.1C345.8 1173.5 347.9 1178.1 350.0 1178.1C353.2 1178.1 356.5 1159.7 359.7 1148.8C362.1 1140.8 364.4 1128.6 366.8 1122.2C369.8 1114.1 372.7 1103.5 375.7 1103.5C378.1 1103.5 380.4 1112.2 382.8 1118.6C385.2 1125.0 387.5 1138.7 389.9 1145.3C392.9 1153.6 395.8 1164.8 398.8 1164.8C402.4 1164.8 405.9 1153.0 409.5 1147.0C414.2 1139.1 419.0 1123.0 423.7 1123.0C426.7 1123.0 429.6 1128.0 432.6 1132.8C435.5 1137.5 438.5 1152.4 441.4 1159.5C446.1 1170.9 450.9 1187.0 455.6 1187.0C457.1 1187.0 458.5 1185.7 460.0 1184.3C463.0 1181.4 465.9 1160.7 468.9 1154.1C472.3 1146.5 475.8 1137.3 479.2 1137.3C482.3 1137.3 485.3 1153.1 488.4 1159.5C492.4 1168.0 496.5 1181.7 500.5 1181.7C503.6 1181.7 506.6 1162.9 509.7 1148.8C512.1 1137.9 514.4 1112.6 516.8 1104.4C519.3 1095.8 521.8 1086.6 524.3 1086.6C526.5 1086.6 528.8 1094.1 531.0 1100.9C533.4 1108.2 535.8 1126.0 538.2 1139.9C540.6 1153.6 542.9 1175.2 545.3 1184.3C547.8 1193.8 550.2 1204.8 552.7 1204.8C555.5 1204.8 558.4 1191.2 561.2 1184.3C563.6 1178.5 565.9 1166.6 568.3 1166.6C570.7 1166.6 573.1 1166.6 575.5 1166.6C578.4 1166.6 581.4 1172.6 584.3 1175.5C587.6 1178.8 590.8 1185.2 594.1 1185.2C598.1 1185.2 602.0 1173.0 606.0 1167.0C610.8 1159.7 615.7 1151.3 620.5 1145.3C624.1 1140.8 627.7 1136.1 631.3 1133.7C634.9 1131.3 638.4 1128.4 642.0 1128.4C644.4 1128.4 646.7 1128.8 649.1 1129.3C652.6 1130.0 656.2 1133.3 659.7 1136.4C663.3 1139.6 666.8 1147.2 670.4 1150.6C673.9 1154.0 677.5 1156.8 681.0 1158.6C684.0 1160.1 686.9 1160.8 689.9 1162.1C693.8 1163.7 697.6 1167.5 701.5 1167.5C704.2 1167.5 706.8 1163.2 709.5 1159.5C712.3 1155.6 715.2 1144.9 718.0 1140.0C720.4 1135.8 722.8 1130.6 725.2 1129.8C727.8 1129.0 730.4 1128.4 733.0 1128.4C735.0 1128.4 737.1 1129.5 739.1 1130.2C742.6 1131.5 746.2 1132.8 749.7 1135.5C753.3 1138.2 756.8 1148.0 760.4 1152.4C763.9 1156.7 767.5 1161.0 771.0 1163.0C774.0 1164.7 776.9 1164.7 779.9 1166.6C783.5 1168.9 787.0 1179.8 790.6 1184.3C794.7 1189.5 798.9 1196.8 803.0 1196.8C806.6 1196.8 810.1 1188.6 813.7 1182.6C816.7 1177.6 819.6 1166.4 822.6 1163.0C824.4 1160.9 826.1 1158.6 827.9 1158.6C830.3 1158.6 832.6 1163.6 835.0 1166.6C837.4 1169.6 839.7 1174.5 842.1 1177.2C844.4 1179.8 846.7 1182.0 849.0 1183.4" stroke="#0000ff" stroke-width="3.7" fill="none" stroke-linejoin="round" stroke-linecap="round"/><path d="M94.9 1183.5C95.8 1179.9 96.8 1175.8 97.7 1171.4C98.6 1167.0 99.6 1161.6 100.5 1157.0C101.1 1153.9 101.8 1150.5 102.4 1148.1C103.3 1144.8 104.1 1142.5 105.0 1140.0C106.3 1136.2 107.6 1134.7 108.9 1129.5C110.1 1124.6 111.4 1113.3 112.6 1101.6C113.4 1094.3 114.1 1082.1 114.9 1073.7C115.8 1063.5 116.8 1054.4 117.7 1045.8C118.8 1035.7 119.9 1026.3 121.0 1017.9C122.0 1010.3 123.0 1001.3 124.0 997.0C125.1 992.4 126.1 987.0 127.2 987.0C128.0 987.0 128.8 989.7 129.6 993.0C130.1 995.2 130.7 1003.3 131.2 1008.6C132.1 1017.8 133.1 1025.3 134.0 1036.5C134.6 1044.1 135.3 1053.5 135.9 1064.4C136.5 1074.7 137.1 1091.3 137.7 1101.6C138.3 1112.5 139.0 1118.3 139.6 1129.5C140.1 1137.8 140.5 1150.5 141.0 1160.0C141.8 1175.6 142.5 1191.0 143.3 1203.3C144.4 1221.5 145.6 1239.7 146.7 1250.0C147.5 1256.9 148.2 1262.7 149.0 1266.0C149.9 1269.7 150.7 1274.0 151.6 1274.0C152.4 1274.0 153.2 1270.2 154.0 1267.0C155.0 1263.1 156.0 1254.2 157.0 1248.0C158.0 1241.8 159.0 1237.5 160.0 1230.0C161.1 1221.8 162.2 1209.1 163.3 1196.7C164.3 1185.8 165.2 1167.6 166.2 1160.0C167.1 1152.7 168.1 1145.7 169.0 1144.0C170.0 1142.2 171.1 1140.8 172.1 1140.8C174.6 1140.8 177.0 1157.3 179.5 1166.6C183.7 1182.6 188.0 1220.0 192.2 1220.0C196.3 1220.0 200.3 1185.0 204.4 1173.7C208.4 1162.4 212.5 1147.0 216.5 1147.0C220.2 1147.0 223.8 1159.6 227.5 1166.6C232.8 1176.7 238.2 1199.4 243.5 1199.4C247.6 1199.4 251.8 1180.7 255.9 1173.7C260.0 1166.7 264.2 1155.9 268.3 1155.9C272.5 1155.9 276.6 1173.6 280.8 1180.8C285.2 1188.5 289.7 1201.2 294.1 1201.2C299.1 1201.2 304.2 1181.3 309.2 1173.7C313.0 1167.9 316.9 1158.6 320.7 1158.6C324.8 1158.6 329.0 1169.4 333.1 1173.7C336.9 1177.7 340.8 1184.3 344.6 1184.3C348.5 1184.3 352.3 1173.1 356.2 1170.1C360.9 1166.4 365.7 1162.1 370.4 1162.1C375.1 1162.1 379.9 1169.0 384.6 1173.7C389.6 1178.7 394.7 1193.2 399.7 1193.2C404.1 1193.2 408.6 1177.6 413.0 1171.9C417.2 1166.6 421.3 1158.6 425.5 1158.6C430.2 1158.6 435.0 1169.3 439.7 1173.7C443.2 1177.0 446.8 1182.6 450.3 1182.6C453.3 1182.6 456.2 1179.9 459.2 1177.2C461.8 1174.8 464.5 1165.5 467.1 1163.0C470.4 1159.9 473.6 1156.8 476.9 1156.8C480.7 1156.8 484.6 1168.9 488.4 1173.7C492.8 1179.2 497.3 1187.9 501.7 1187.9C505.6 1187.9 509.4 1176.6 513.3 1171.9C517.9 1166.3 522.5 1156.8 527.1 1156.8C530.8 1156.8 534.5 1168.9 538.2 1173.7C543.0 1179.9 547.9 1189.7 552.7 1189.7C557.3 1189.7 562.0 1178.6 566.6 1173.7C570.3 1169.8 573.9 1162.7 577.6 1162.7C582.2 1162.7 586.8 1171.6 591.4 1175.5C595.6 1179.0 599.7 1185.2 603.9 1185.2C608.4 1185.2 613.0 1174.9 617.5 1171.0C621.8 1167.3 626.1 1161.6 630.4 1161.6C634.3 1161.6 638.1 1168.7 642.0 1171.9C646.4 1175.6 650.9 1182.2 655.3 1182.2C659.1 1182.2 663.0 1173.1 666.8 1170.1C670.7 1167.0 674.5 1162.7 678.4 1162.7C682.2 1162.7 686.1 1170.3 689.9 1173.7C694.1 1177.4 698.2 1184.3 702.4 1184.3C707.3 1184.3 712.1 1173.1 717.0 1169.0C721.1 1165.5 725.1 1160.2 729.2 1160.2C732.5 1160.2 735.8 1162.3 739.1 1164.8C741.5 1166.6 743.8 1174.4 746.2 1177.2C748.8 1180.3 751.5 1184.3 754.1 1184.3C757.4 1184.3 760.6 1178.9 763.9 1175.5C766.9 1172.4 769.8 1166.0 772.8 1164.8C774.6 1164.1 776.4 1163.4 778.2 1163.4C780.6 1163.4 782.9 1165.1 785.3 1166.6C788.2 1168.5 791.2 1175.2 794.1 1177.2C797.7 1179.6 801.2 1182.2 804.8 1182.2C807.8 1182.2 810.7 1176.7 813.7 1173.7C816.7 1170.7 819.6 1165.5 822.6 1163.9C825.0 1162.6 827.3 1161.2 829.7 1161.2C832.6 1161.2 835.6 1165.6 838.5 1168.3C842.0 1171.5 845.5 1175.5 849.0 1179.9" stroke="#ff0000" stroke-width="3.7" fill="none" stroke-linejoin="round" stroke-linecap="round"/><path d="M89.0 1864.0C89.5 1863.0 90.0 1861.8 90.5 1860.5C91.6 1857.5 92.8 1854.0 93.9 1849.1C95.3 1843.2 96.6 1835.7 98.0 1824.0C98.9 1816.6 99.7 1802.9 100.6 1790.5C101.3 1780.5 102.0 1768.2 102.7 1757.0C103.4 1745.8 104.1 1735.0 104.8 1723.5C105.5 1712.5 106.1 1700.8 106.8 1689.6C107.5 1677.9 108.2 1665.3 108.9 1654.7C109.7 1642.0 110.6 1631.7 111.4 1619.8C112.2 1608.4 113.0 1593.4 113.8 1584.9C114.5 1577.8 115.1 1570.9 115.8 1568.0C116.4 1565.3 117.1 1562.5 117.7 1562.5C118.3 1562.5 118.9 1564.9 119.5 1568.0C119.9 1570.2 120.4 1578.1 120.8 1584.9C121.4 1593.8 121.9 1607.0 122.5 1619.8C123.0 1630.3 123.4 1645.3 123.9 1654.7C124.6 1668.8 125.3 1675.6 126.0 1689.6C126.5 1698.9 126.9 1708.8 127.4 1723.5C127.7 1731.9 127.9 1749.5 128.2 1757.0C128.8 1772.9 129.3 1774.6 129.9 1790.5C130.2 1798.0 130.4 1817.6 130.7 1824.0C131.6 1846.2 132.6 1848.4 133.5 1865.0C133.8 1870.9 134.2 1879.2 134.5 1886.1C134.9 1895.0 135.4 1906.3 135.8 1912.1C136.5 1921.1 137.1 1927.1 137.8 1931.7C138.9 1939.0 139.9 1945.6 141.0 1948.0C142.3 1950.9 143.6 1953.5 144.9 1953.5C145.7 1953.5 146.4 1949.2 147.2 1946.0C147.9 1943.3 148.5 1938.6 149.2 1935.0C150.2 1929.4 151.3 1924.3 152.3 1918.2C153.5 1911.3 154.6 1902.5 155.8 1895.0C157.0 1887.1 158.3 1879.9 159.5 1872.0C160.6 1864.9 161.7 1857.3 162.8 1850.0C163.8 1843.3 164.8 1836.9 165.8 1830.0C167.2 1820.4 168.6 1810.4 170.0 1800.0C171.5 1788.8 173.0 1775.2 174.5 1765.0C176.2 1753.7 177.8 1739.7 179.5 1735.0C181.3 1729.9 183.1 1725.0 184.9 1725.0C187.3 1725.0 189.6 1735.6 192.0 1745.5C194.4 1755.4 196.7 1779.7 199.1 1798.8C201.5 1817.9 203.8 1845.8 206.2 1861.0C209.3 1880.8 212.3 1907.0 215.4 1907.0C218.2 1907.0 221.1 1881.1 223.9 1861.0C226.3 1844.2 228.6 1802.7 231.0 1789.9C234.1 1773.2 237.2 1756.5 240.3 1756.5C243.1 1756.5 246.0 1769.0 248.8 1781.0C251.2 1791.0 253.5 1818.5 255.9 1834.3C257.7 1846.1 259.4 1862.1 261.2 1866.3C263.5 1871.7 265.7 1876.0 268.0 1876.0C271.1 1876.0 274.1 1867.2 277.2 1861.0C280.8 1853.8 284.3 1836.6 287.9 1832.6C291.2 1828.9 294.4 1825.5 297.7 1825.5C300.9 1825.5 304.2 1832.5 307.4 1837.9C310.6 1843.3 313.9 1857.8 317.1 1861.0C320.4 1864.2 323.6 1867.0 326.9 1867.0C330.7 1867.0 334.6 1857.2 338.4 1853.9C342.8 1850.1 347.3 1845.0 351.7 1845.0C355.6 1845.0 359.4 1855.6 363.3 1859.2C368.3 1863.9 373.4 1870.5 378.4 1870.5C382.2 1870.5 386.1 1865.7 389.9 1861.0C392.9 1857.4 395.8 1845.8 398.8 1841.4C402.1 1836.5 405.3 1830.5 408.6 1830.5C412.4 1830.5 416.3 1838.1 420.1 1843.2C423.7 1847.9 427.2 1858.0 430.8 1861.0C433.8 1863.5 436.7 1866.0 439.7 1866.0C443.8 1866.0 448.0 1854.9 452.1 1852.1C455.4 1849.9 458.6 1847.2 461.9 1847.2C463.6 1847.2 465.4 1848.0 467.1 1848.8C470.1 1850.1 473.0 1855.3 476.0 1857.7C480.1 1861.1 484.3 1866.0 488.4 1866.0C492.0 1866.0 495.5 1860.9 499.1 1856.8C502.1 1853.4 505.0 1844.2 508.0 1841.7C511.5 1838.8 515.1 1836.0 518.6 1836.0C522.2 1836.0 525.7 1840.0 529.3 1843.5C532.3 1846.4 535.2 1855.2 538.2 1857.7C541.7 1860.6 545.3 1863.5 548.8 1863.5C552.4 1863.5 555.9 1858.5 559.5 1856.8C564.2 1854.6 569.0 1851.5 573.7 1851.5C577.2 1851.5 580.8 1855.2 584.3 1856.8C589.0 1858.9 593.8 1862.5 598.5 1862.5C600.9 1862.5 603.2 1861.5 605.6 1860.4C608.0 1859.2 610.4 1853.7 612.8 1850.6C614.2 1848.8 615.7 1846.6 617.1 1845.3C620.4 1842.3 623.6 1838.5 626.9 1838.5C630.1 1838.5 633.4 1842.4 636.6 1845.3C639.6 1847.9 642.5 1853.7 645.5 1855.9C649.7 1859.0 653.8 1862.5 658.0 1862.5C661.5 1862.5 665.1 1859.1 668.6 1857.7C673.0 1855.9 677.5 1853.0 681.9 1853.0C685.8 1853.0 689.6 1855.4 693.5 1856.8C696.8 1857.9 700.0 1860.5 703.3 1860.5C706.5 1860.5 709.8 1859.1 713.0 1857.7C716.6 1856.1 720.1 1850.0 723.7 1847.9C728.1 1845.3 732.6 1842.3 737.0 1842.3C740.8 1842.3 744.5 1846.5 748.3 1849.5C751.2 1851.8 754.1 1856.6 757.0 1858.5C759.7 1860.3 762.3 1862.1 765.0 1862.5C767.8 1862.9 770.5 1863.3 773.3 1863.3C776.6 1863.3 780.0 1860.4 783.3 1859.2C786.6 1858.0 790.0 1855.8 793.3 1855.8C796.6 1855.8 800.0 1857.3 803.3 1858.3C806.6 1859.3 810.0 1861.7 813.3 1861.7C815.5 1861.7 817.8 1861.7 820.0 1861.7C823.3 1861.7 826.7 1855.5 830.0 1853.3C834.4 1850.3 838.9 1846.0 843.3 1846.0C846.6 1846.0 850.0 1848.2 853.3 1850.0C856.1 1851.5 858.9 1854.6 861.7 1856.7C864.5 1858.8 867.2 1861.6 870.0 1862.5C874.2 1863.8 878.3 1865.0 882.5 1865.0" stroke="#000000" stroke-width="3.7" fill="none" stroke-linejoin="round" stroke-linecap="round"/><path d="M89.0 1864.0C90.0 1863.6 91.0 1862.8 92.0 1862.0C93.0 1861.2 94.0 1859.9 95.0 1858.5C96.0 1857.1 97.0 1855.2 98.0 1853.0C99.0 1850.8 100.0 1848.2 101.0 1845.0C101.8 1842.3 102.7 1839.0 103.5 1835.0C104.3 1831.0 105.2 1825.6 106.0 1820.0C106.7 1815.5 107.3 1810.2 108.0 1805.0C108.6 1800.3 109.2 1795.8 109.8 1790.5C110.9 1780.7 112.0 1768.0 113.1 1757.0C114.2 1745.7 115.4 1735.6 116.5 1723.5C117.4 1713.9 118.3 1701.6 119.2 1692.0C119.7 1686.3 120.3 1680.0 120.8 1676.0C121.3 1672.3 121.8 1668.6 122.3 1667.0C122.8 1665.3 123.4 1663.5 123.9 1663.5C124.5 1663.5 125.2 1666.0 125.8 1668.0C126.5 1670.1 127.1 1674.1 127.8 1678.0C128.5 1681.9 129.1 1686.5 129.8 1692.0C130.5 1697.5 131.1 1703.9 131.8 1712.0C132.4 1719.3 133.0 1730.3 133.6 1740.0C134.2 1749.7 134.8 1760.3 135.4 1770.0C136.0 1780.3 136.7 1790.0 137.3 1800.0C137.9 1810.0 138.6 1821.1 139.2 1830.0C140.0 1841.2 140.8 1852.0 141.6 1860.0C143.1 1874.9 144.6 1886.1 146.1 1895.9C146.8 1900.5 147.5 1905.5 148.2 1908.0C149.0 1910.9 149.8 1914.3 150.6 1914.3C151.4 1914.3 152.2 1911.6 153.0 1909.0C153.7 1906.7 154.4 1900.5 155.1 1895.9C156.4 1887.3 157.7 1876.6 159.0 1867.9C159.8 1862.3 160.7 1856.0 161.5 1852.0C162.5 1847.0 163.6 1841.9 164.6 1840.0C165.9 1837.6 167.3 1835.4 168.6 1835.4C170.2 1835.4 171.9 1839.6 173.5 1843.0C175.4 1846.9 177.2 1854.9 179.1 1861.9C180.5 1867.1 181.9 1876.3 183.3 1879.3C185.1 1883.2 187.0 1887.0 188.8 1887.0C190.7 1887.0 192.5 1880.9 194.4 1875.8C196.0 1871.3 197.7 1861.7 199.3 1854.9C201.0 1847.8 202.7 1838.0 204.4 1834.3C207.4 1827.9 210.3 1821.9 213.3 1821.9C216.3 1821.9 219.2 1827.9 222.2 1830.8C226.3 1834.8 230.5 1842.3 234.6 1842.3C238.2 1842.3 241.7 1840.4 245.3 1839.7C248.8 1839.0 252.4 1839.0 255.9 1837.9C258.3 1837.2 260.6 1833.2 263.0 1830.8C266.3 1827.5 269.5 1821.0 272.8 1821.0C276.1 1821.0 279.3 1828.1 282.6 1834.3C285.5 1839.8 288.5 1856.0 291.4 1861.0C294.4 1866.1 297.3 1871.6 300.3 1871.6C303.7 1871.6 307.1 1865.7 310.5 1860.0C313.2 1855.5 315.8 1840.1 318.5 1836.0C322.3 1830.1 326.1 1824.6 329.9 1824.6C333.3 1824.6 336.8 1832.9 340.2 1837.9C344.3 1844.0 348.5 1859.2 352.6 1859.2C356.2 1859.2 359.7 1854.0 363.3 1848.5C365.7 1844.8 368.0 1831.3 370.4 1827.2C374.2 1820.6 378.1 1813.9 381.9 1813.9C385.2 1813.9 388.4 1820.5 391.7 1825.5C394.7 1830.1 397.6 1840.8 400.6 1845.0C404.7 1850.8 408.9 1857.4 413.0 1857.4C416.6 1857.4 420.1 1856.5 423.7 1855.6C426.1 1855.0 428.4 1852.1 430.8 1852.1C434.3 1852.1 437.9 1863.8 441.4 1869.9C444.4 1875.0 447.3 1882.6 450.3 1885.8C453.0 1888.7 455.6 1892.1 458.3 1892.1C461.8 1892.1 465.4 1888.7 468.9 1886.1C471.9 1883.9 474.8 1880.7 477.8 1877.2C480.7 1873.8 483.7 1868.6 486.6 1864.8C489.6 1861.0 492.5 1855.3 495.5 1854.1C497.9 1853.2 500.2 1852.4 502.6 1852.4C505.6 1852.4 508.5 1853.4 511.5 1854.1C514.5 1854.8 517.4 1857.3 520.4 1857.3C522.8 1857.3 525.1 1856.2 527.5 1855.0C529.9 1853.8 532.2 1849.3 534.6 1845.3C537.0 1841.3 539.3 1832.5 541.7 1829.3C544.4 1825.7 547.0 1821.8 549.7 1821.8C551.8 1821.8 553.8 1823.7 555.9 1825.7C558.3 1828.0 560.6 1836.7 563.0 1841.7C565.4 1846.7 567.7 1853.7 570.1 1855.9C573.7 1859.2 577.2 1862.1 580.8 1862.1C583.8 1862.1 586.7 1859.3 589.7 1858.6C591.5 1858.2 593.2 1857.7 595.0 1857.7C597.4 1857.7 599.7 1860.8 602.1 1863.0C605.1 1865.7 608.0 1871.0 611.0 1873.7C613.3 1875.8 615.7 1879.0 618.0 1879.0C621.3 1879.0 624.5 1875.3 627.8 1871.9C630.7 1868.8 633.7 1860.5 636.6 1855.9C639.0 1852.2 641.3 1847.5 643.7 1846.1C646.1 1844.7 648.5 1843.5 650.9 1843.5C653.3 1843.5 655.6 1846.4 658.0 1848.8C660.9 1851.8 663.9 1858.7 666.8 1863.0C670.4 1868.2 673.9 1877.2 677.5 1877.2C680.5 1877.2 683.4 1871.8 686.4 1868.3C689.4 1864.8 692.3 1858.9 695.3 1855.9C697.1 1854.1 698.8 1851.5 700.6 1851.5C703.6 1851.5 706.5 1857.6 709.5 1861.2C713.6 1866.2 717.8 1878.1 721.9 1878.1C724.9 1878.1 727.8 1866.9 730.8 1863.0C733.8 1859.1 736.7 1853.3 739.7 1853.3C742.6 1853.3 745.4 1853.3 748.3 1853.3C751.1 1853.3 753.9 1855.9 756.7 1858.3C759.5 1860.7 762.2 1867.0 765.0 1871.7C767.8 1876.4 770.5 1883.7 773.3 1886.7C775.0 1888.5 776.6 1890.8 778.3 1890.8C780.5 1890.8 782.8 1887.9 785.0 1885.0C787.2 1882.1 789.5 1874.1 791.7 1868.3C793.4 1864.0 795.0 1857.7 796.7 1855.0C798.4 1852.3 800.0 1849.2 801.7 1849.2C804.5 1849.2 807.2 1851.6 810.0 1853.3C813.9 1855.7 817.8 1863.3 821.7 1863.3C824.5 1863.3 827.2 1858.7 830.0 1856.7C834.4 1853.6 838.9 1848.3 843.3 1848.3C846.6 1848.3 850.0 1852.6 853.3 1855.0C856.6 1857.4 860.0 1862.5 863.3 1862.5C865.0 1862.5 866.6 1860.4 868.3 1858.3C870.0 1856.2 871.6 1848.9 873.3 1845.0C876.4 1837.8 879.4 1831.2 882.5 1826.0" stroke="#0000ff" stroke-width="3.7" fill="none" stroke-linejoin="round" stroke-linecap="round"/><path d="M89.0 1864.0C89.2 1863.8 89.5 1863.7 89.7 1863.4C91.6 1861.2 93.6 1855.5 95.5 1849.1C97.2 1843.5 98.9 1835.6 100.6 1824.0C101.7 1816.5 102.8 1803.3 103.9 1790.5C104.7 1780.8 105.6 1768.2 106.4 1757.0C107.2 1745.8 108.1 1738.3 108.9 1723.5C109.4 1715.2 109.8 1697.0 110.3 1689.6C111.1 1676.4 112.0 1671.9 112.8 1661.7C113.5 1653.2 114.2 1642.4 114.9 1633.7C115.7 1623.7 116.5 1612.7 117.3 1605.8C118.0 1600.1 118.6 1594.2 119.3 1592.0C119.9 1590.0 120.5 1588.0 121.1 1588.0C121.7 1588.0 122.2 1589.8 122.8 1592.0C123.3 1593.9 123.8 1600.4 124.3 1605.8C125.0 1613.3 125.7 1624.4 126.4 1633.7C127.1 1643.0 127.8 1650.3 128.5 1661.7C129.0 1669.3 129.4 1680.7 129.9 1690.0C130.5 1701.3 131.0 1710.3 131.6 1723.5C132.0 1732.8 132.4 1746.3 132.8 1757.0C133.2 1768.6 133.7 1780.5 134.1 1790.5C134.6 1802.9 135.2 1808.1 135.7 1824.0C136.0 1831.9 136.2 1852.4 136.5 1860.0C136.9 1872.4 137.4 1878.3 137.8 1886.1C138.3 1895.7 138.9 1903.4 139.4 1912.1C139.9 1920.8 140.5 1930.5 141.0 1938.2C141.7 1947.9 142.3 1957.9 143.0 1964.2C143.9 1972.4 144.7 1979.6 145.6 1983.0C146.5 1986.7 147.5 1990.5 148.4 1990.5C149.4 1990.5 150.5 1987.7 151.5 1985.0C152.4 1982.6 153.4 1976.7 154.3 1972.0C155.2 1967.5 156.1 1962.9 157.0 1957.3C158.2 1949.6 159.5 1939.2 160.7 1929.4C161.8 1920.6 162.9 1910.1 164.0 1901.5C165.3 1891.4 166.6 1882.5 167.9 1873.5C169.3 1863.8 170.7 1857.2 172.1 1845.6C173.1 1837.6 174.0 1825.8 175.0 1815.0C176.2 1801.6 177.4 1782.8 178.6 1772.0C180.5 1755.3 182.3 1739.4 184.2 1733.0C185.9 1727.3 187.5 1721.5 189.2 1721.5C190.8 1721.5 192.4 1728.1 194.0 1734.9C195.4 1740.8 196.8 1758.0 198.2 1769.8C199.7 1782.2 201.1 1793.5 202.6 1807.7C205.0 1830.6 207.3 1868.1 209.7 1887.6C212.6 1911.2 215.4 1942.7 218.3 1942.7C221.4 1942.7 224.4 1911.9 227.5 1887.6C229.9 1868.9 232.2 1820.9 234.6 1807.7C237.1 1793.8 239.6 1780.2 242.1 1780.2C244.9 1780.2 247.8 1794.3 250.6 1807.7C253.6 1821.8 256.5 1867.7 259.5 1887.6C262.4 1907.3 265.4 1934.7 268.3 1934.7C271.3 1934.7 274.2 1908.1 277.2 1887.6C280.2 1867.1 283.1 1817.3 286.1 1798.8C289.8 1776.0 293.4 1750.0 297.1 1750.0C300.5 1750.0 304.0 1778.3 307.4 1798.8C310.4 1816.6 313.3 1856.2 316.3 1869.9C319.4 1884.3 322.5 1900.1 325.6 1900.1C328.7 1900.1 331.8 1874.7 334.9 1861.0C337.8 1848.0 340.8 1826.3 343.7 1820.1C346.4 1814.5 349.0 1809.1 351.7 1809.1C355.0 1809.1 358.2 1824.0 361.5 1834.3C364.5 1843.6 367.4 1863.0 370.4 1869.9C373.1 1876.1 375.7 1883.2 378.4 1883.2C381.1 1883.2 383.7 1870.5 386.4 1861.0C389.4 1850.5 392.3 1826.1 395.3 1816.6C399.1 1804.4 403.0 1790.3 406.8 1790.3C410.1 1790.3 413.3 1805.1 416.6 1816.6C419.6 1827.0 422.5 1851.3 425.5 1861.0C429.5 1874.1 433.5 1889.4 437.5 1889.4C441.2 1889.4 444.8 1869.7 448.5 1861.0C452.7 1851.1 456.8 1833.4 461.0 1833.4C463.0 1833.4 465.1 1839.3 467.1 1843.5C469.5 1848.4 471.8 1858.4 474.2 1863.0C477.2 1868.8 480.1 1876.3 483.1 1876.3C485.5 1876.3 487.8 1866.5 490.2 1859.5C492.6 1852.5 494.9 1840.2 497.3 1831.0C499.7 1821.8 502.0 1809.3 504.4 1804.4C507.4 1798.3 510.3 1792.0 513.3 1792.0C516.3 1792.0 519.2 1798.5 522.2 1804.4C524.6 1809.1 526.9 1819.5 529.3 1827.5C531.7 1835.5 534.0 1848.7 536.4 1852.4C540.2 1858.4 544.1 1863.4 547.9 1863.4C552.3 1863.4 556.8 1859.6 561.2 1858.6C564.8 1857.8 568.3 1857.7 571.9 1856.8C576.0 1855.8 580.2 1853.5 584.3 1850.6C588.5 1847.7 592.6 1841.9 596.8 1836.4C599.2 1833.3 601.5 1828.3 603.9 1825.7C606.4 1822.9 609.0 1819.0 611.5 1819.0C614.0 1819.0 616.4 1822.6 618.9 1825.7C621.3 1828.7 623.6 1836.5 626.0 1839.9C628.4 1843.3 630.7 1847.9 633.1 1847.9C636.1 1847.9 639.0 1847.9 642.0 1847.9C645.0 1847.9 647.9 1850.1 650.9 1852.4C653.8 1854.7 656.8 1862.2 659.7 1866.6C662.7 1871.0 665.6 1877.3 668.6 1879.0C671.0 1880.4 673.3 1881.7 675.7 1881.7C678.7 1881.7 681.6 1876.8 684.6 1873.7C687.6 1870.6 690.5 1867.0 693.5 1863.0C697.0 1858.3 700.6 1852.5 704.1 1847.0C707.1 1842.4 710.0 1834.7 713.0 1832.8C715.1 1831.5 717.1 1830.2 719.2 1830.2C722.5 1830.2 725.7 1833.7 729.0 1836.4C732.0 1838.9 734.9 1844.1 737.9 1847.0C740.3 1849.3 742.6 1851.7 745.0 1853.0C748.9 1855.1 752.8 1857.5 756.7 1857.5C759.2 1857.5 761.7 1855.8 764.2 1855.8C767.2 1855.8 770.3 1857.7 773.3 1858.3C776.6 1858.9 780.0 1859.7 783.3 1859.7C785.5 1859.7 787.8 1859.0 790.0 1858.3C792.8 1857.5 795.5 1855.2 798.3 1853.3C801.1 1851.4 803.9 1848.9 806.7 1846.7C809.5 1844.5 812.2 1841.0 815.0 1840.0C817.2 1839.2 819.5 1838.3 821.7 1838.3C823.9 1838.3 826.1 1840.1 828.3 1841.7C830.5 1843.3 832.8 1847.7 835.0 1850.0C837.2 1852.3 839.5 1855.1 841.7 1855.8C843.9 1856.5 846.1 1857.0 848.3 1857.0C851.1 1857.0 853.9 1853.3 856.7 1853.3C858.4 1853.3 860.0 1853.3 861.7 1853.3C863.9 1853.3 866.1 1858.3 868.3 1861.7C870.5 1865.2 872.8 1870.7 875.0 1875.0C877.5 1879.8 880.0 1884.5 882.5 1889.0" stroke="#ff0000" stroke-width="3.7" fill="none" stroke-linejoin="round" stroke-linecap="round"/></svg></body></html>
